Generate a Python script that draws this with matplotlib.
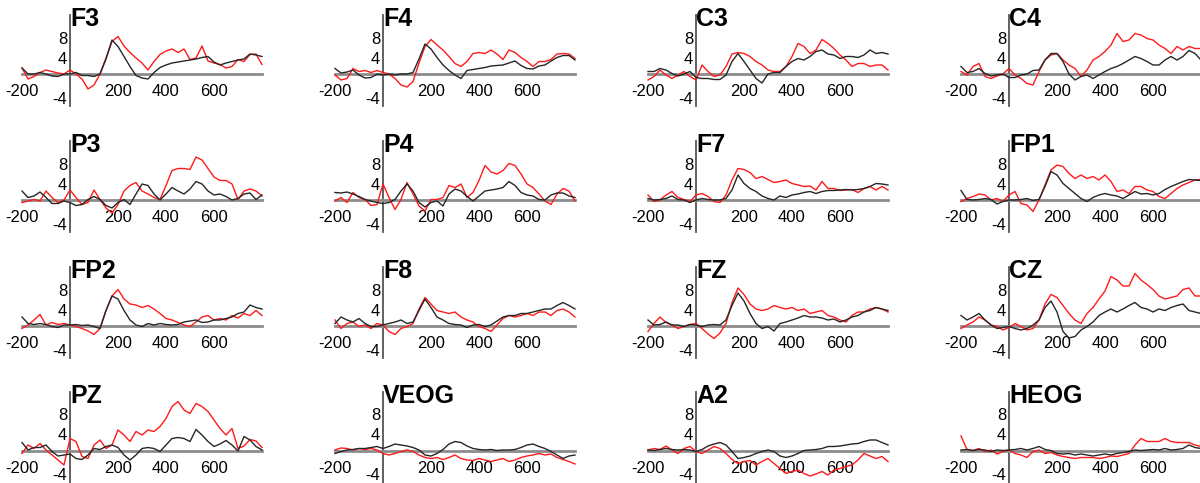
import matplotlib
matplotlib.use("Agg")
import matplotlib.pyplot as plt
from matplotlib.transforms import ScaledTranslation

# time axis (ms), sampled every 25 ms
times = list(range(-200, 801, 25))

channels = ["F3", "F4", "C3", "C4",
            "P3", "P4", "F7", "FP1",
            "FP2", "F8", "FZ", "CZ",
            "PZ", "VEOG", "A2", "HEOG"]

x_tick_values = [-200, 200, 400, 600]
x_tick_labels = ["-200", "200", "400", "600"]
y_tick_values = [8, 4, -4]
y_tick_labels = ["8", "4", "-4"]

# ---- amplitudes (uV), red and black condition, per channel ----
f3_red = [1.2, -1.0, -0.5, 0.3, 0.8, 0.5, 0.2, 0.0, 0.8, 0.0, -1.0, -3.0,
          -2.2, 0.0, 3.2, 6.5, 7.5, 5.6, 4.3, 3.2, 2.2, 0.8, 2.5, 3.9,
          4.6, 5.0, 4.3, 5.0, 2.9, 3.2, 5.6, 2.6, 2.2, 1.9, 1.2, 1.5,
          2.9, 2.5, 3.9, 4.0, 1.9]
f3_black = [1.2, 0.0, 0.0, 0.3, 0.0, -0.4, -0.5, 0.0, 0.0, 0.3, -0.3, -0.3,
            -0.5, 0.0, 3.0, 6.8, 5.5, 3.5, 1.5, -0.3, -0.8, -1.0, 0.3, 1.3,
            1.8, 2.2, 2.4, 2.6, 2.8, 3.0, 3.3, 3.5, 2.4, 1.8, 2.2, 2.5,
            2.8, 3.0, 4.0, 3.8, 3.5]

f4_red = [-0.2, -1.2, -0.9, 1.1, 0.5, 0.7, 0.3, 0.7, 0.3, 0.0, -0.9, -2.2,
          -2.6, -1.5, 2.2, 5.5, 6.9, 5.8, 4.8, 3.5, 2.1, 1.5, 2.5, 4.1,
          4.3, 4.1, 4.8, 4.0, 2.9, 4.8, 4.3, 3.3, 2.5, 1.5, 2.5, 2.5,
          2.9, 4.0, 4.1, 4.0, 3.1]
f4_black = [1.1, 0.2, 0.4, 0.8, -0.2, -0.8, -0.7, 0.0, -0.2, 0.0, -0.2, 0.0,
            0.0, 0.3, 3.0, 6.0, 5.0, 3.3, 1.8, 0.7, -0.2, -0.9, 0.7, 0.9,
            1.1, 1.3, 1.6, 1.7, 1.8, 2.2, 2.6, 1.7, 1.1, 1.0, 1.6, 1.8,
            2.6, 3.3, 3.7, 3.7, 2.8]

c3_red = [-1.2, -0.5, 0.8, -0.2, -0.9, -0.2, 0.5, -0.5, -1.2, 1.8, 0.5, -0.5,
          -0.2, 1.5, 4.0, 4.3, 4.1, 3.5, 2.5, 1.8, 0.8, 0.5, 0.5, 1.5,
          3.5, 6.1, 5.5, 4.1, 4.8, 6.9, 6.1, 5.1, 3.8, 2.8, 1.5, 2.1,
          2.1, 1.5, 1.8, 1.8, 0.8]
c3_black = [0.5, 0.5, 1.1, 0.8, 0.1, -0.4, 0.0, 0.5, -0.7, -0.9, -0.9, -1.1,
            -1.1, -0.2, 2.5, 4.1, 2.5, 0.8, -0.9, -1.8, 0.0, 0.3, 0.3, 1.5,
            2.5, 3.1, 2.8, 3.5, 4.5, 4.8, 4.0, 3.8, 3.1, 3.5, 3.5, 3.3,
            3.8, 4.8, 4.1, 4.3, 4.0]

c4_red = [0.5, -0.2, 1.5, 2.1, -0.5, -0.9, -0.4, 0.0, 1.1, -0.2, -0.9, -1.9,
          -2.2, 0.5, 2.8, 3.8, 4.1, 2.8, 1.8, 1.1, -0.5, 0.8, 2.8, 3.5,
          4.5, 5.8, 8.1, 6.5, 6.8, 8.1, 7.8, 7.1, 6.8, 5.8, 5.1, 4.1,
          5.5, 4.8, 5.5, 5.1, 5.1]
c4_black = [1.5, 0.3, 0.5, 1.1, 0.1, -0.4, -0.2, 0.0, -0.7, -0.7, -0.2, 0.0,
            0.7, 0.8, 2.8, 4.1, 4.1, 2.5, 0.0, -1.2, -0.5, -0.2, -0.9, -0.2,
            0.5, 1.1, 1.5, 2.1, 2.8, 3.5, 3.1, 2.5, 1.8, 1.8, 2.8, 3.5,
            2.8, 3.5, 4.7, 4.1, 2.8]

p3_red = [-0.5, -0.2, 0.1, -0.2, 1.8, 0.5, -0.5, 0.0, 2.0, 0.5, -0.9, -0.5,
          2.0, 0.1, -1.6, -2.6, -0.9, 1.8, 2.9, 3.5, 1.8, 1.2, 0.5, 0.1,
          2.9, 5.9, 6.3, 6.3, 6.1, 8.6, 8.0, 6.3, 4.6, 3.9, 3.9, 3.2,
          0.1, 1.8, 2.2, 1.8, 0.8]
p3_black = [1.8, 0.5, 0.8, 1.6, 0.5, -0.7, -0.7, -0.2, -0.5, -1.1, -0.9, 0.1,
            0.7, 0.1, -1.1, -1.6, -0.5, 0.1, -0.9, 1.2, 3.2, 2.9, 1.2, 0.0,
            1.2, 2.5, 1.8, 1.2, 2.2, 3.7, 3.2, 1.8, 1.0, 1.2, 0.7, 0.0,
            0.3, 1.2, 1.4, 0.1, 1.0]

p4_red = [-0.2, 0.5, -0.5, 1.5, 0.5, 0.1, -1.1, -0.9, 3.2, 0.5, -1.9, 0.1,
          3.5, 1.2, -1.2, -2.2, 0.1, 0.1, 0.5, 2.9, 2.5, 3.2, 0.5, 1.5,
          3.9, 6.9, 5.6, 5.2, 5.9, 7.3, 6.9, 5.2, 3.2, 2.5, 1.2, -0.2,
          -0.9, 1.2, 2.3, 1.8, -0.2]
p4_black = [1.5, 1.4, 1.6, 1.2, 0.7, 0.1, -0.2, -0.5, -0.7, -0.5, 0.1, 1.8,
            3.2, 1.8, -0.5, -1.4, -0.5, -0.2, -1.2, 1.2, 2.2, 1.8, 0.7, -0.2,
            0.8, 1.8, 2.0, 2.2, 2.5, 3.7, 2.9, 1.5, 1.0, 0.8, 0.1, 0.0,
            1.0, 1.4, 1.4, 0.8, 0.5]

f7_red = [1.0, -0.3, 0.0, 1.0, 1.7, 0.5, 0.1, -0.3, 1.0, 1.3, 0.7, -0.3,
          -0.5, 1.0, 4.0, 6.3, 6.1, 5.5, 4.3, 4.7, 4.1, 3.5, 3.7, 4.0,
          3.3, 3.0, 2.7, 2.8, 2.0, 3.7, 2.3, 2.3, 1.9, 2.0, 2.1, 1.5,
          2.3, 2.7, 2.0, 2.7, 2.0]
f7_black = [0.3, 0.0, 0.1, 0.3, 0.8, 0.1, 0.0, -0.5, 0.0, 0.3, 0.1, 0.0,
            0.0, 0.3, 2.0, 5.0, 3.3, 2.3, 1.7, 0.8, 0.3, 0.0, 0.8, 0.5,
            1.0, 1.2, 1.5, 1.7, 1.3, 1.7, 1.9, 1.9, 2.0, 2.1, 2.0, 2.1,
            2.3, 2.7, 3.3, 3.2, 3.0]

fp1_red = [-0.3, 0.3, 0.7, 1.2, 1.0, 0.0, 0.3, -0.3, 1.0, 1.7, -0.7, -1.0,
           -2.3, 0.0, 3.0, 6.0, 7.0, 6.7, 5.3, 4.3, 5.0, 4.3, 4.7, 4.0,
           5.0, 3.7, 1.7, 2.0, 1.3, 2.7, 2.7, 2.0, 1.7, 0.7, 0.3, 1.3,
           2.3, 3.0, 3.5, 4.0, 4.1]
fp1_black = [1.9, 0.1, 0.0, 0.1, 0.3, 0.1, -0.8, -0.3, 0.0, 0.0, 0.1, 0.3,
             -0.1, 0.1, 2.7, 5.7, 5.0, 3.3, 2.3, 1.3, 0.3, -0.3, 0.5, 1.0,
             1.3, 1.0, 0.8, 0.3, 1.0, 1.7, 1.2, 1.3, 1.0, 1.3, 2.1, 2.7,
             3.2, 3.7, 4.1, 4.0, 3.9]

fp2_red = [-0.5, 0.2, 1.2, 2.3, 0.2, 0.7, 0.3, 0.5, 0.2, -0.1, -0.5, -1.0,
           -1.7, -0.5, 3.1, 6.0, 7.3, 5.4, 4.4, 4.2, 3.7, 4.1, 3.4, 2.5,
           1.5, 1.2, 0.7, 0.2, -0.1, 0.8, 1.8, 2.1, 1.2, 1.5, 1.2, 2.1,
           1.6, 2.5, 2.1, 3.1, 2.1]
fp2_black = [1.8, 0.5, 0.3, 0.5, 0.3, -0.1, -0.3, 0.2, 0.2, 0.3, 0.1, 0.2,
             -0.1, -0.5, 3.1, 6.0, 5.4, 3.1, 1.2, 0.2, -0.1, 0.5, 0.2, 0.5,
             0.3, 0.2, 0.3, 0.8, 1.0, 1.2, 0.7, 0.8, 1.2, 1.2, 1.5, 1.8,
             2.5, 2.8, 4.2, 3.7, 3.4]

f8_red = [1.2, -0.5, 0.5, 0.8, -0.1, 0.2, -0.5, 0.5, 0.2, -1.1, -1.7, -0.5,
          -0.1, 0.5, 3.4, 5.7, 4.4, 3.1, 2.8, 2.5, 2.8, 1.8, 1.2, 0.8,
          -0.1, -0.5, -1.1, 0.2, 1.5, 2.1, 1.8, 2.1, 2.5, 2.1, 2.8, 2.8,
          2.1, 3.1, 3.4, 2.8, 1.8]
f8_black = [0.5, 1.8, 1.2, 0.8, 1.5, 0.5, -0.1, -0.1, 0.2, 0.5, 0.8, 1.2,
            0.5, 0.8, 3.1, 5.4, 3.7, 1.8, 1.2, 0.5, 0.3, 0.2, -0.3, 0.2,
            0.3, -0.1, 0.2, 1.0, 1.8, 2.1, 2.1, 2.5, 2.5, 2.8, 3.1, 3.4,
            3.4, 4.1, 4.7, 4.1, 3.4]

fz_red = [-1.1, 0.5, 1.8, 0.7, 0.2, -0.5, -0.1, 0.3, 0.5, -0.5, -1.6, -2.5,
          -1.4, 0.5, 4.7, 7.6, 6.3, 4.4, 3.4, 3.1, 3.4, 4.1, 3.7, 3.4,
          3.7, 3.1, 3.4, 2.5, 2.8, 3.1, 2.1, 1.8, 1.2, 0.8, 2.1, 2.8,
          2.8, 3.4, 3.7, 3.4, 2.8]
fz_black = [1.2, 0.2, 0.3, 0.8, 0.2, 0.2, -0.1, 0.3, 0.2, -0.1, 0.2, 0.3,
            0.2, 1.2, 4.1, 6.6, 5.0, 2.5, 0.5, -0.5, -0.1, -1.0, 0.5, 0.8,
            1.2, 1.6, 2.1, 1.8, 1.8, 1.6, 1.2, 1.4, 0.8, 1.2, 1.8, 2.1,
            2.8, 3.1, 3.7, 3.4, 3.1]

cz_red = [-0.5, 0.2, 0.8, 1.8, 1.2, 0.2, -0.1, -0.8, -0.3, 0.5, -0.1, -0.8,
          -0.5, 1.2, 4.4, 6.3, 5.7, 4.1, 2.5, 1.2, 0.5, 2.5, 3.7, 5.4,
          7.0, 9.9, 9.2, 8.0, 8.0, 10.5, 9.2, 8.3, 7.3, 6.0, 5.4, 5.7,
          6.0, 7.3, 7.6, 6.0, 6.0]
cz_black = [2.1, 1.2, 1.8, 2.5, 1.2, 0.2, -0.5, -0.3, -0.1, -0.5, -0.8, -0.5,
            0.2, 1.2, 3.7, 5.0, 2.8, -1.1, -2.4, -2.1, -0.8, -0.1, 0.8, 2.1,
            2.8, 3.4, 2.8, 3.4, 4.1, 4.7, 3.7, 3.4, 2.8, 3.4, 3.1, 3.7,
            4.1, 4.4, 3.1, 2.8, 2.5]

pz_red = [-0.5, 1.2, 0.5, 1.5, 0.2, -0.8, -1.8, -2.8, 2.5, 1.9, -1.1, -1.5,
          1.2, 2.2, 0.5, 1.2, 4.2, 3.2, 1.9, 3.9, 3.2, 4.2, 3.9, 4.9,
          6.5, 8.9, 9.9, 8.2, 7.5, 9.5, 8.9, 7.9, 6.2, 4.5, 3.2, 4.5,
          0.5, 1.0, 2.3, 2.0, 0.7]
pz_black = [1.7, 0.2, 0.7, 0.7, 1.2, -0.1, -1.0, -0.8, -0.6, -1.5, -1.7, -0.8,
            0.5, 0.3, 0.9, 1.2, 0.7, -0.8, -1.8, -0.8, 0.5, 0.7, 0.5, -0.1,
            1.2, 2.5, 2.7, 2.5, 1.9, 4.3, 3.2, 1.9, 0.9, 1.4, 2.1, 1.2,
            0.0, 2.9, 2.2, 0.9, 0.2]

veog_red = [0.2, 0.6, 0.5, 0.2, 0.5, 0.3, 0.5, 0.2, -0.5, -0.8, -0.5, -0.1,
            0.2, -0.1, -0.8, -1.3, -1.5, -1.3, -1.7, -1.3, -0.8, -1.5, -1.8, -1.9,
            -1.5, -1.8, -2.1, -1.8, -1.5, -2.1, -1.8, -1.3, -1.0, -0.8, -0.5, -0.8,
            -0.6, -1.3, -1.7, -2.1, -2.6]
veog_black = [-0.5, -0.1, 0.2, 0.3, 0.5, 0.5, 0.7, 0.9, 0.5, 0.9, 1.4, 1.2,
              1.0, 0.7, 0.2, -0.8, -1.0, -0.5, 0.3, 1.4, 1.9, 1.7, 1.0, 0.5,
              0.3, 0.2, 0.3, 0.1, 0.2, 0.2, 0.3, 0.7, 1.2, 1.4, 0.9, 0.5,
              -0.1, -0.8, -1.5, -1.0, -0.8]

a2_red = [0.2, 0.5, 0.3, 1.0, 0.2, -0.5, 0.5, 0.9, -0.1, -0.5, 0.2, 0.9,
          0.5, -0.5, -1.7, -2.5, -2.1, -1.9, -2.8, -2.1, -1.5, -2.5, -3.5, -4.5,
          -4.1, -3.8, -4.5, -5.0, -4.6, -4.1, -4.8, -3.8, -3.5, -3.1, -2.8, -1.8,
          -0.5, -1.0, -1.5, -1.1, -2.1]
a2_black = [0.2, 0.1, 0.3, 0.5, 0.3, 0.2, 0.3, 0.2, -0.1, 0.3, 1.0, 1.4,
            1.7, 1.2, -0.1, -1.5, -1.3, -1.0, -0.5, -0.1, 0.2, -0.1, -1.0, -1.3,
            -1.0, -0.5, 0.1, 0.2, 0.3, 0.5, 0.9, 0.9, 1.0, 1.2, 1.4, 1.5,
            1.9, 2.2, 2.2, 1.7, 1.2]

heog_red = [3.0, 0.3, 0.1, 0.5, -0.1, 0.2, -0.6, -0.1, 0.2, -0.5, -0.8, -1.3,
            -0.1, 0.2, -0.5, -0.3, -0.8, -1.1, -1.3, -1.5, -1.3, -1.3, -1.3, -1.5,
            -1.3, -1.0, -1.1, -0.8, -0.5, 1.2, 2.5, 1.9, 1.9, 1.9, 2.5, 1.9,
            1.7, 1.7, 1.7, 1.2, 0.9]
heog_black = [0.2, 0.3, 0.1, 0.3, 0.2, -0.1, 0.2, 0.1, 0.2, 0.3, 0.5, 0.2,
              0.5, 0.9, 0.3, 0.1, -0.5, -0.6, -0.5, -0.8, -0.6, -0.8, -1.0, -0.8,
              -0.6, -0.8, -0.5, -0.3, -0.1, 0.2, 0.1, 0.2, 0.3, 0.2, 0.5, 0.2,
              0.3, 0.5, 1.2, 0.7, 0.5]

red_series = [f3_red, f4_red, c3_red, c4_red, p3_red, p4_red, f7_red, fp1_red,
              fp2_red, f8_red, fz_red, cz_red, pz_red, veog_red, a2_red, heog_red]
black_series = [f3_black, f4_black, c3_black, c4_black, p3_black, p4_black, f7_black, fp1_black,
                fp2_black, f8_black, fz_black, cz_black, pz_black, veog_black, a2_black, heog_black]

# ---- layout (pixels) ----
W, H = 1200, 483
col_zero_x = [70, 383, 696, 1009]
row_zero_y = [74, 200, 326, 451]
px_per_ms = 0.24
px_per_uv = 5.0
x_lo, x_hi = -200, 800
y_lo, y_hi = -6.4, 11.8

FONT = ["Liberation Sans", "DejaVu Sans"]

fig = plt.figure(figsize=(W / 100, H / 100), dpi=100)
fig.patch.set_facecolor("white")

label_shift = ScaledTranslation(0, -3.5 / 100, fig.dpi_scale_trans)

for i, name in enumerate(channels):
    r, c = divmod(i, 4)
    left = col_zero_x[c] + x_lo * px_per_ms
    width = (x_hi - x_lo) * px_per_ms
    top = row_zero_y[r] - y_hi * px_per_uv
    height = (y_hi - y_lo) * px_per_uv
    ax = fig.add_axes([left / W, (H - top - height) / H, width / W, height / H])
    ax.set_facecolor("none")
    ax.set_xlim(x_lo, x_hi)
    ax.set_ylim(y_lo, y_hi)

    ax.plot(times, red_series[i], color="#ff1a1a", lw=1.0, zorder=3, clip_on=False)
    ax.plot(times, black_series[i], color="#262626", lw=1.0, zorder=3.1, clip_on=False)

    for s in ("top", "right"):
        ax.spines[s].set_visible(False)
    ax.spines["left"].set_position(("data", 0))
    ax.spines["bottom"].set_position(("data", 0))
    ax.spines["bottom"].set_color("#8c8c8c")
    ax.spines["bottom"].set_linewidth(2.0)
    ax.spines["left"].set_color("#555555")
    ax.spines["left"].set_linewidth(1.3)

    ax.set_xticks(x_tick_values)
    ax.set_xticklabels(x_tick_labels, fontfamily=FONT, fontsize=12)
    ax.set_yticks(y_tick_values)
    ax.set_yticklabels(y_tick_labels, fontfamily=FONT, fontsize=12)
    ax.tick_params(axis="both", length=0, colors="black")
    ax.tick_params(axis="x", pad=7.5)
    ax.tick_params(axis="y", pad=2)
    for lbl in ax.get_yticklabels():
        lbl.set_transform(lbl.get_transform() + label_shift)

    ax.text(0, 9.6, name, fontsize=18, fontweight="bold", fontfamily=FONT,
            ha="left", va="baseline", color="black", clip_on=False, zorder=5)

fig.savefig("out.png", dpi=100, facecolor="white")
